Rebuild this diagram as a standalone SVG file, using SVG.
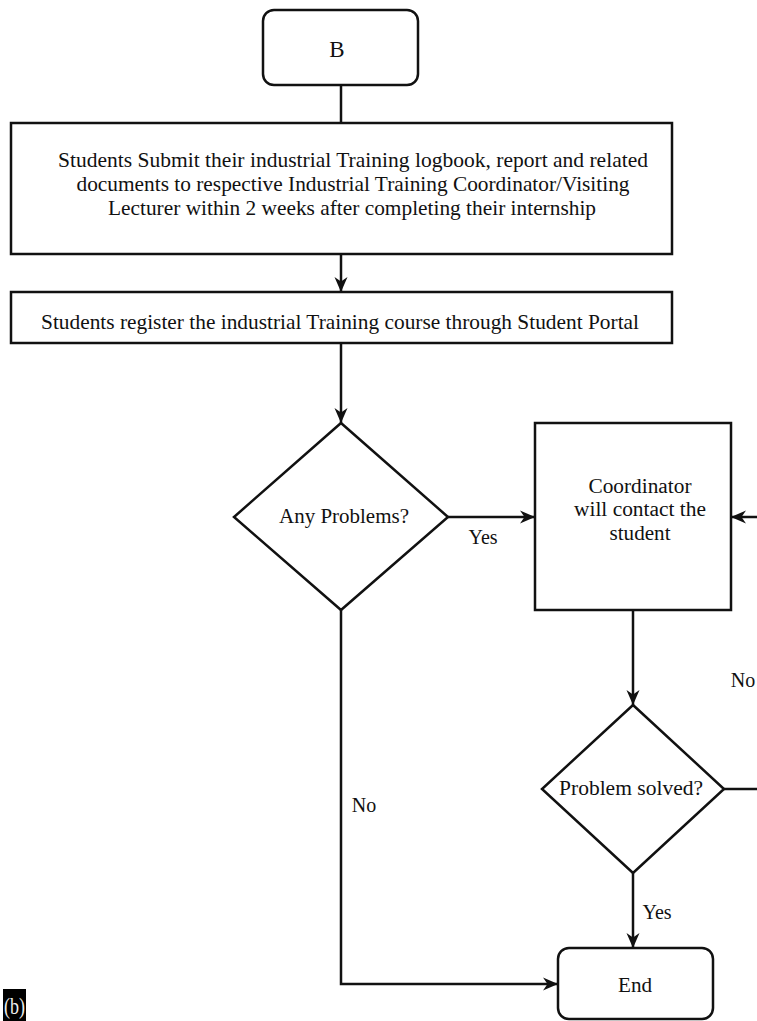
<svg xmlns="http://www.w3.org/2000/svg" width="757" height="1021" viewBox="0 0 757 1021">
  <style>
    .shape { fill: #ffffff; stroke: #111111; stroke-width: 2.5; }
    .wire { fill: none; stroke: #111111; stroke-width: 2.5; }
    .txt { font-family: "Liberation Serif", "Times New Roman", serif; fill: #111111; text-anchor: middle; }
    .lbl { font-family: "Liberation Serif", "Times New Roman", serif; fill: #111111; text-anchor: middle; font-size: 20px; }
  </style>
  <defs>
    <marker id="arrow" markerUnits="userSpaceOnUse" markerWidth="16" markerHeight="16" viewBox="0 0 16 16" refX="15" refY="8" orient="auto">
      <path d="M0,1.5 L15,8 L0,14.5 L4.5,8 z" fill="#111111"/>
    </marker>
  </defs>

  <rect width="757" height="1021" fill="#ffffff"/>

  <!-- connectors -->
  <g id="connectors">
    <line class="wire" x1="341" y1="85" x2="341" y2="123"/>
    <line class="wire" x1="341" y1="254" x2="341" y2="292" marker-end="url(#arrow)"/>
    <line class="wire" x1="341" y1="343" x2="341" y2="423" marker-end="url(#arrow)"/>
    <line class="wire" x1="448" y1="517" x2="535" y2="517" marker-end="url(#arrow)"/>
    <line class="wire" x1="633" y1="610" x2="633" y2="705" marker-end="url(#arrow)"/>
    <line class="wire" x1="633" y1="873" x2="633" y2="948" marker-end="url(#arrow)"/>
    <polyline class="wire" points="341,610 341,984 558,984" marker-end="url(#arrow)"/>
    <polyline class="wire" points="724,789 762,789 762,517 731,517" marker-end="url(#arrow)"/>
    <text class="lbl" x="483" y="544">Yes</text>
    <text class="lbl" x="657" y="919">Yes</text>
    <text class="lbl" x="364" y="812">No</text>
    <text class="lbl" x="743" y="687">No</text>
  </g>

  <!-- start connector B -->
  <g id="node-b">
    <rect class="shape" x="263" y="10" width="155" height="75" rx="11"/>
    <text class="txt" x="337" y="57" font-size="23">B</text>
  </g>

  <!-- submission step -->
  <g id="node-submit">
    <rect class="shape" x="11" y="123" width="661" height="131"/>
    <text class="txt" x="353" y="167" font-size="21" textLength="590" lengthAdjust="spacingAndGlyphs">Students Submit their industrial Training logbook, report and related</text>
    <text class="txt" x="353" y="191" font-size="21" textLength="553" lengthAdjust="spacingAndGlyphs">documents to respective Industrial Training Coordinator/Visiting</text>
    <text class="txt" x="352" y="215" font-size="21" textLength="488" lengthAdjust="spacingAndGlyphs">Lecturer within 2 weeks after completing their internship</text>
  </g>

  <!-- registration step -->
  <g id="node-register">
    <rect class="shape" x="11" y="292" width="661" height="51"/>
    <text class="txt" x="340" y="329" font-size="21" textLength="598" lengthAdjust="spacingAndGlyphs">Students register the industrial Training course through Student Portal</text>
  </g>

  <!-- decision: any problems -->
  <g id="node-problems">
    <polygon class="shape" points="341,423 448,517 341,610 234,517"/>
    <text class="txt" x="344" y="523" font-size="20" textLength="130" lengthAdjust="spacingAndGlyphs">Any Problems?</text>
  </g>

  <!-- coordinator action -->
  <g id="node-coordinator">
    <rect class="shape" x="535" y="423" width="196" height="187"/>
    <text class="txt" x="640" y="493" font-size="20.5" textLength="103" lengthAdjust="spacingAndGlyphs">Coordinator</text>
    <text class="txt" x="640" y="516" font-size="20.5" textLength="132" lengthAdjust="spacingAndGlyphs">will contact the</text>
    <text class="txt" x="640" y="540" font-size="20.5" textLength="61" lengthAdjust="spacingAndGlyphs">student</text>
  </g>

  <!-- decision: problem solved -->
  <g id="node-solved">
    <polygon class="shape" points="633,705 724,789 633,873 542,789"/>
    <text class="txt" x="631" y="795" font-size="20" textLength="144" lengthAdjust="spacingAndGlyphs">Problem solved?</text>
  </g>

  <!-- terminal -->
  <g id="node-end">
    <rect class="shape" x="558" y="948" width="155" height="71" rx="11"/>
    <text class="txt" x="635" y="992" font-size="20" textLength="34" lengthAdjust="spacingAndGlyphs">End</text>
  </g>

  <!-- panel tag -->
  <g id="panel-tag">
    <rect x="3" y="989" width="23" height="32" fill="#000000"/>
    <text x="14.5" y="1014" font-family="Liberation Serif, Times New Roman, serif" font-size="24" fill="#eeeeee" text-anchor="middle" textLength="21" lengthAdjust="spacingAndGlyphs">(b)</text>
  </g>
</svg>
